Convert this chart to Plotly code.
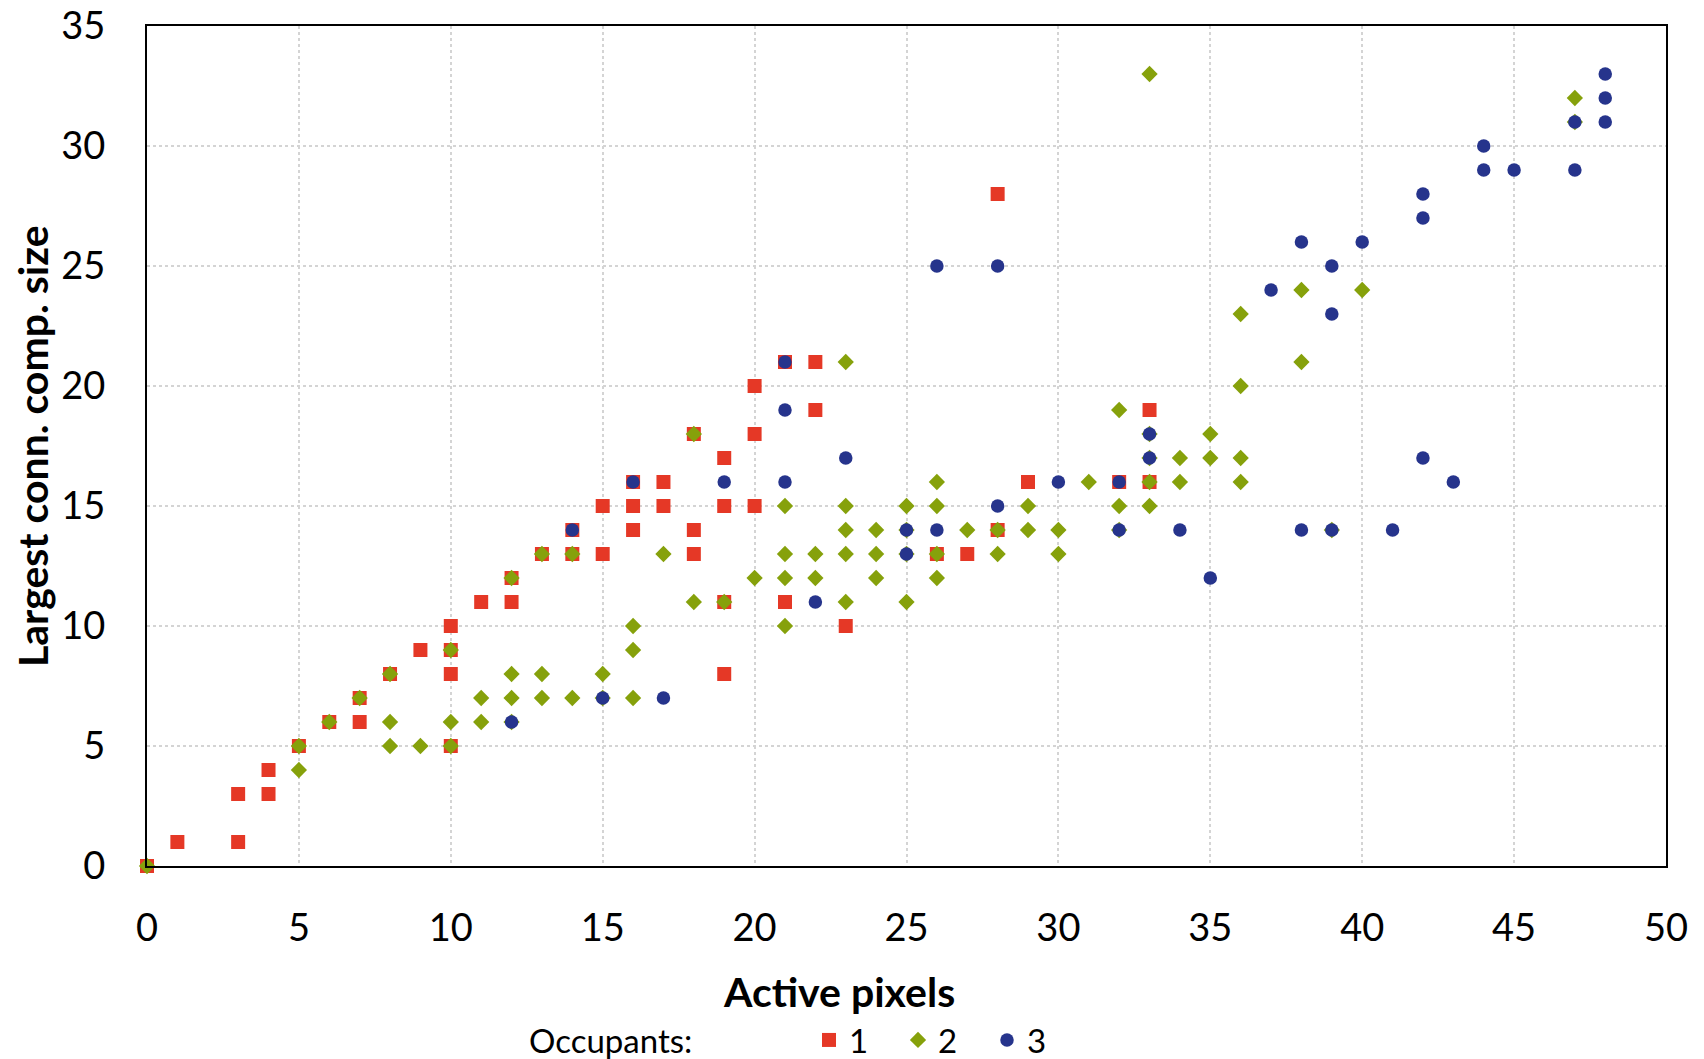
import plotly.graph_objects as go

# Occupants = 1
x1 = [0, 1, 3, 3, 4, 4, 5, 6, 7, 7, 8, 9, 10, 10, 10, 10, 11, 12, 12, 13, 14, 14, 15, 15,
      16, 16, 16, 17, 17, 18, 18, 18, 19, 19, 19, 19, 20, 20, 20, 21, 21, 22, 22, 23,
      26, 27, 28, 28, 29, 32, 33, 33]
y1 = [0, 1, 1, 3, 3, 4, 5, 6, 7, 6, 8, 9, 10, 9, 8, 5, 11, 12, 11, 13, 14, 13, 15, 13,
      16, 15, 14, 16, 15, 18, 14, 13, 17, 15, 11, 8, 20, 18, 15, 21, 11, 21, 19, 10,
      13, 13, 28, 14, 16, 16, 19, 16]

# Occupants = 2
x2 = [0, 5, 5, 6, 7, 8, 8, 8, 9, 10, 10, 10, 11, 11, 12, 12, 12, 12, 13, 13, 13, 14, 14,
      15, 15, 16, 16, 16, 17, 18, 18, 19, 20, 21, 21, 21, 21, 22, 22, 23, 23, 23, 23, 23,
      24, 24, 24, 25, 25, 25, 25, 26, 26, 26, 26, 27, 28, 28, 29, 29, 30, 30, 31, 32, 32,
      32, 33, 33, 33, 33, 33, 34, 34, 35, 35, 36, 36, 36, 36, 38, 38, 39, 40, 47, 47]
y2 = [0, 5, 4, 6, 7, 8, 6, 5, 5, 9, 6, 5, 7, 6, 12, 8, 7, 6, 13, 8, 7, 13, 7,
      8, 7, 10, 9, 7, 13, 18, 11, 11, 12, 15, 13, 12, 10, 13, 12, 21, 15, 14, 13, 11,
      14, 13, 12, 15, 14, 13, 11, 16, 15, 13, 12, 14, 14, 13, 15, 14, 14, 13, 16, 19, 15,
      14, 33, 18, 17, 16, 15, 17, 16, 18, 17, 23, 20, 17, 16, 24, 21, 14, 24, 32, 31]

# Occupants = 3
x3 = [12, 14, 15, 16, 17, 19, 21, 21, 21, 22, 23, 25, 25, 26, 26, 28, 28, 30, 32, 32,
      33, 33, 34, 35, 37, 38, 38, 39, 39, 39, 40, 41, 42, 42, 42, 43, 44, 44, 45, 47,
      47, 48, 48, 48]
y3 = [6, 14, 7, 16, 7, 16, 21, 19, 16, 11, 17, 14, 13, 25, 14, 25, 15, 16, 16, 14,
      18, 17, 14, 12, 24, 26, 14, 25, 23, 14, 26, 14, 28, 27, 17, 16, 30, 29, 29, 31,
      29, 33, 32, 31]

series_names = ["1", "2", "3"]
x_ticks = [0, 5, 10, 15, 20, 25, 30, 35, 40, 45, 50]
y_ticks = [0, 5, 10, 15, 20, 25, 30, 35]

FONT = "Lato, 'Noto Sans', sans-serif"
RED = "#E53826"
GREEN = "#86A10B"
BLUE = "#26348C"

fig = go.Figure()
fig.add_trace(go.Scatter(x=x1, y=y1, mode="markers", name=series_names[0], cliponaxis=False,
                         marker=dict(symbol="square", size=14, color=RED, line=dict(width=0))))
fig.add_trace(go.Scatter(x=x2, y=y2, mode="markers", name=series_names[1], cliponaxis=False,
                         marker=dict(symbol="diamond", size=12.5, color=GREEN, line=dict(width=0))))
fig.add_trace(go.Scatter(x=x3, y=y3, mode="markers", name=series_names[2], cliponaxis=False,
                         marker=dict(symbol="circle", size=13.5, color=BLUE, line=dict(width=0))))

W, H = 1704, 1059
L, R, T, B = 147, 38, 26, 193
pw, ph = W - L - R, H - T - B

def px_x(px):
    return (px - L) / pw

def px_y(py):
    return (H - B - py) / ph

fig.update_layout(
    width=W, height=H,
    margin=dict(l=L, r=R, t=T, b=B, autoexpand=False),
    paper_bgcolor="white", plot_bgcolor="white",
    font=dict(family=FONT, color="black"),
    showlegend=True,
    legend=dict(orientation="h", x=px_x(809), xanchor="left", y=px_y(1040), yanchor="middle",
                font=dict(size=33, family=FONT), entrywidth=44, entrywidthmode="pixels",
                bgcolor="rgba(0,0,0,0)", borderwidth=0),
    xaxis=dict(range=[0, 50], tickvals=x_ticks, showgrid=True, gridcolor="#d4d4d4",
               griddash="dot", gridwidth=1.5, zeroline=False, showline=True, linecolor="black",
               linewidth=2, mirror=True, ticks="", tickfont=dict(size=38, family=FONT),
               ticklabelstandoff=27),
    yaxis=dict(range=[0, 35], tickvals=y_ticks, showgrid=True, gridcolor="#d4d4d4",
               griddash="dot", gridwidth=1.5, zeroline=False, showline=True, linecolor="black",
               linewidth=2, mirror=True, ticks="", tickfont=dict(size=38, family=FONT),
               ticklabelstandoff=32),
    annotations=[
        dict(text="<b>Active pixels</b>", xref="paper", yref="paper", x=px_x(839), y=px_y(992),
             xanchor="center", yanchor="middle", showarrow=False, font=dict(size=41, family=FONT)),
        dict(text="<b>Largest conn. comp. size</b>", xref="paper", yref="paper", x=px_x(32),
             y=px_y(446), xanchor="center", yanchor="middle", textangle=-90, showarrow=False,
             font=dict(size=41, family=FONT)),
        dict(text="Occupants:", xref="paper", yref="paper", x=px_x(610), y=px_y(1040),
             xanchor="center", yanchor="middle", showarrow=False, font=dict(size=33, family=FONT)),
    ],
)

fig.write_html("out.html")
